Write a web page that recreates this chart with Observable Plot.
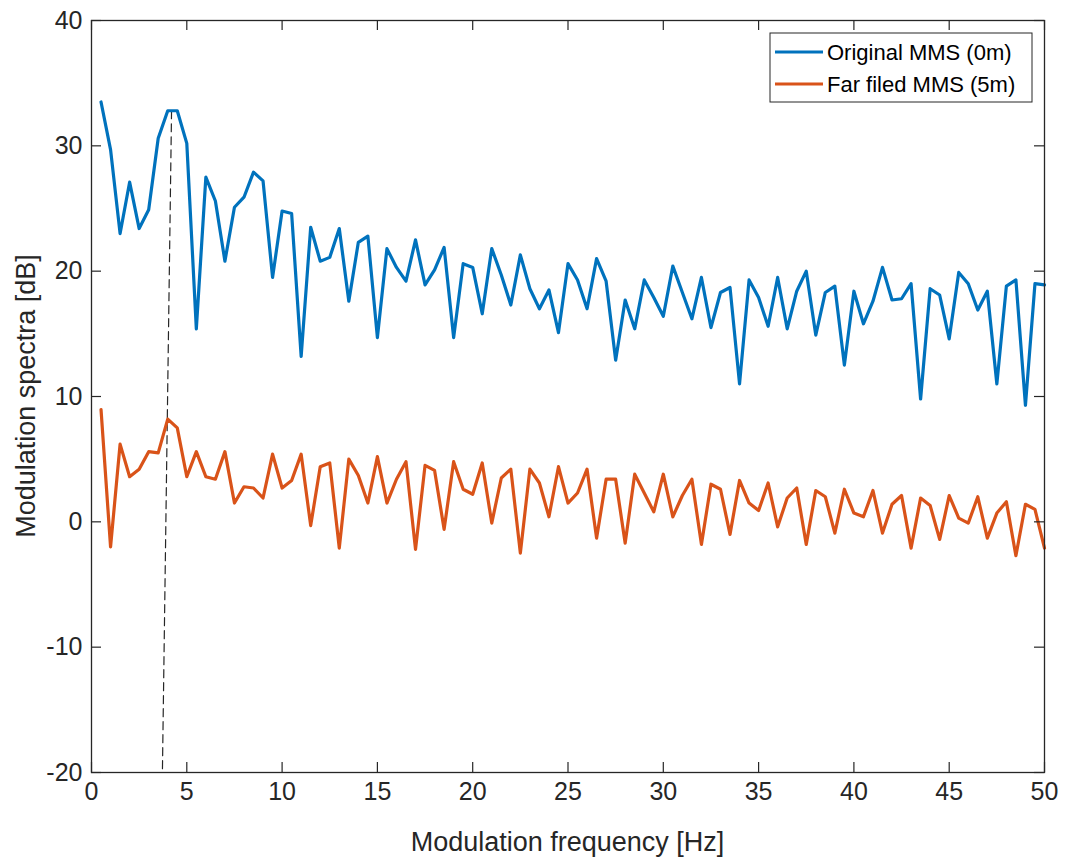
<!DOCTYPE html>
<html><head><meta charset="utf-8">
<script src="https://cdn.jsdelivr.net/npm/d3@7"></script>
<script src="https://cdn.jsdelivr.net/npm/@observablehq/plot@0.6"></script>
<style>body{margin:0;background:#fff}</style>
</head><body><div id="chart"></div>
<script>
const freq = [0.5,1,1.5,2,2.5,3,3.5,4,4.5,5,5.5,6,6.5,7,7.5,8,8.5,9,9.5,10,
  10.5,11,11.5,12,12.5,13,13.5,14,14.5,15,15.5,16,16.5,17,17.5,18,18.5,19,19.5,20,
  20.5,21,21.5,22,22.5,23,23.5,24,24.5,25,25.5,26,26.5,27,27.5,28,28.5,29,29.5,30,
  30.5,31,31.5,32,32.5,33,33.5,34,34.5,35,35.5,36,36.5,37,37.5,38,38.5,39,39.5,40,
  40.5,41,41.5,42,42.5,43,43.5,44,44.5,45,45.5,46,46.5,47,47.5,48,48.5,49,49.5,50];
const original = [33.5,29.7,23.0,27.1,23.4,24.9,30.6,32.8,32.8,30.2,
  15.4,27.5,25.6,20.8,25.1,25.9,27.9,27.2,19.5,24.8,
  24.6,13.2,23.5,20.8,21.1,23.4,17.6,22.3,22.8,14.7,
  21.8,20.3,19.2,22.5,18.9,20.1,21.9,14.7,20.6,20.3,
  16.6,21.8,19.7,17.3,21.3,18.6,17.0,18.5,15.1,20.6,
  19.3,17.0,21.0,19.2,12.9,17.7,15.4,19.3,17.9,16.4,
  20.4,18.3,16.2,19.5,15.5,18.3,18.7,11.0,19.3,17.9,
  15.6,19.5,15.4,18.4,20.0,14.9,18.3,18.8,12.5,18.4,
  15.8,17.6,20.3,17.7,17.8,19.0,9.8,18.6,18.1,14.6,
  19.9,19.0,16.9,18.4,11.0,18.8,19.3,9.3,19.0,18.9];
const farField = [8.95,-2.0,6.2,3.6,4.2,5.6,5.5,8.2,7.5,3.6,
  5.6,3.6,3.4,5.6,1.5,2.8,2.7,1.9,5.4,2.7,
  3.3,5.4,-0.3,4.4,4.7,-2.1,5.0,3.7,1.5,5.2,
  1.5,3.4,4.8,-2.2,4.5,4.1,-0.6,4.8,2.6,2.2,
  4.7,-0.1,3.5,4.2,-2.5,4.2,3.1,0.4,4.4,1.5,
  2.3,4.2,-1.3,3.4,3.4,-1.7,3.8,2.3,0.8,3.8,
  0.4,2.1,3.4,-1.8,3.0,2.6,-1.0,3.3,1.5,0.9,
  3.1,-0.4,1.9,2.7,-1.8,2.5,2.0,-0.9,2.6,0.7,
  0.4,2.5,-0.9,1.4,2.1,-2.1,1.9,1.3,-1.4,2.1,
  0.3,-0.1,2.0,-1.3,0.7,1.6,-2.7,1.4,1.0,-2.1];
const peakLineX = [4.2, 3.72];
const peakLineY = [32.8, -20];
const xTicks = [0,5,10,15,20,25,30,35,40,45,50];
const yTicks = [-20,-10,0,10,20,30,40];
const xDomain = [0, 50];
const yDomain = [-20, 40];
const seriesNames = ["Original MMS (0m)", "Far filed MMS (5m)"];
const seriesColors = ["#0072BD", "#D95319"];
const xLabel = "Modulation frequency [Hz]";
const yLabel = "Modulation spectra [dB]";

const FONT = "'Liberation Sans', Arial, Helvetica, sans-serif";
const INK = "#262626";

const blueData = freq.map((f, i) => ({f, v: original[i]}));
const orangeData = freq.map((f, i) => ({f, v: farField[i]}));
const peakData = peakLineX.map((x, i) => ({x, y: peakLineY[i]}));

const W = 1066, H = 864, mL = 91, mR = 22, mT = 20, mB = 92;

const chart = Plot.plot({
  width: W, height: H,
  marginLeft: mL, marginRight: mR, marginTop: mT, marginBottom: mB,
  style: {fontFamily: FONT, fontSize: "25px", color: INK, background: "#fff"},
  x: {domain: xDomain},
  y: {domain: yDomain},
  marks: [
    Plot.line(peakData, {x: "x", y: "y", stroke: INK, strokeWidth: 1.2, strokeDasharray: "8,5"}),
    Plot.line(blueData, {x: "f", y: "v", stroke: seriesColors[0], strokeWidth: 3.2}),
    Plot.line(orangeData, {x: "f", y: "v", stroke: seriesColors[1], strokeWidth: 3.2}),
    Plot.ruleX(xTicks, {x: d => d, y1: yDomain[0], y2: yDomain[0], insetTop: -10, stroke: INK, strokeWidth: 1.2}),
    Plot.ruleX(xTicks, {x: d => d, y1: yDomain[1], y2: yDomain[1], insetBottom: -10, stroke: INK, strokeWidth: 1.2}),
    Plot.ruleY(yTicks, {y: d => d, x1: xDomain[0], x2: xDomain[0], insetRight: -10, stroke: INK, strokeWidth: 1.2}),
    Plot.ruleY(yTicks, {y: d => d, x1: xDomain[1], x2: xDomain[1], insetLeft: -10, stroke: INK, strokeWidth: 1.2}),
    Plot.frame({stroke: INK, strokeWidth: 1.3}),
    Plot.axisX(xTicks, {tickSize: 0, tickPadding: 10, label: null, fontSize: 25, fill: INK, tickFormat: d => String(d)}),
    Plot.axisY(yTicks, {tickSize: 0, tickPadding: 9, label: null, fontSize: 25, fill: INK, tickFormat: d => String(d)})
  ]
});

document.getElementById("chart").appendChild(chart);

const svg = d3.select(chart);
// axis titles
svg.append("text")
  .attr("x", (mL + W - mR) / 2).attr("y", 851)
  .attr("text-anchor", "middle")
  .style("font-family", FONT).style("font-size", "27px").attr("fill", INK)
  .text(xLabel);
svg.append("text")
  .attr("transform", `translate(35,${(mT + H - mB) / 2}) rotate(-90)`)
  .attr("text-anchor", "middle")
  .style("font-family", FONT).style("font-size", "27px").attr("fill", INK)
  .text(yLabel);

// legend
const lg = svg.append("g");
lg.append("rect").attr("x", 770).attr("y", 33).attr("width", 262).attr("height", 69)
  .attr("fill", "#fff").attr("stroke", INK).attr("stroke-width", 1);
seriesNames.forEach((name, i) => {
  const cy = 52 + i * 32;
  lg.append("line").attr("x1", 775).attr("x2", 823).attr("y1", cy).attr("y2", cy)
    .attr("stroke", seriesColors[i]).attr("stroke-width", 3);
  lg.append("text").attr("x", 827).attr("y", cy).attr("dy", "0.35em")
    .attr("text-anchor", "start")
    .style("font-family", FONT).style("font-size", "22px").attr("fill", "#000")
    .text(name);
});
</script>
</body></html>
